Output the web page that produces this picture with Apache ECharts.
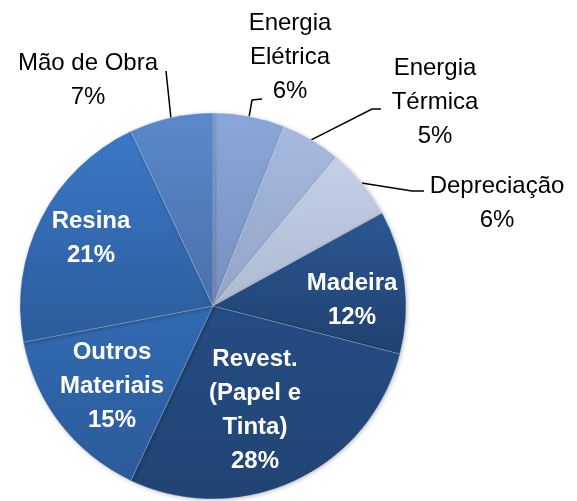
<!DOCTYPE html>
<html>
<head>
<meta charset="utf-8">
<script src="https://cdn.jsdelivr.net/npm/echarts@6/dist/echarts.min.js"></script>
<style>
  html, body { margin: 0; padding: 0; background: #fff; }
  #chart { width: 577px; height: 501px; }
</style>
</head>
<body>
<div id="chart"></div>
<script>
// categories and shares (%), clockwise from 12 o'clock
const categories = ["Energia\nElétrica", "Energia\nTérmica", "Depreciação", "Madeira", "Revest.\n(Papel e\nTinta)", "Outros\nMateriais", "Resina", "Mão de Obra"]
const shares = [6, 5, 6, 12, 28, 15, 21, 7]
// which labels sit inside the slice
const insideLabel = [false, false, false, true, true, true, true, false]

// slice colours: [top, bottom] of each gradient
const sliceColors = [
  ["#89a7d8", "#7690bf"],
  ["#a6b9df", "#93a5c7"],
  ["#c4d0e7", "#aebad2"],
  ["#2c5794", "#1f416e"],
  ["#254c84", "#214473"],
  ["#316ab2", "#2c5b9a"],
  ["#3b78c6", "#2c5b9b"],
  ["#5a89cc", "#4a70ab"]
]

const cx = 213, cy = 306, R = 193

// label centres relative to pie centre, and leader line elbow/end points
const labelPos = [
  { x: 77, y: -249, elbow: [39, -206], end: [49, -207] },
  { x: 222, y: -204, elbow: [159, -197], end: [168, -197] },
  { x: 284, y: -103, elbow: [199, -115], end: [211, -115] },
  { x: 139, y: -6 },
  { x: 42, y: 104 },
  { x: -101, y: 80 },
  { x: -122, y: -68 },
  { x: -125, y: -226, elbow: [-47, -235], end: [-47, -235] }
]

const total = shares.reduce((a, b) => a + b, 0)
const midAngles = []
let acc = 0
shares.forEach((v) => {
  midAngles.push((acc + v / 2) / total * Math.PI * 2)
  acc += v
})

const chart = echarts.init(document.getElementById("chart"))

const data = categories.map((name, i) => {
  return {
    name: name,
    value: shares[i],
    itemStyle: {
      color: new echarts.graphic.LinearGradient(0, 0, 0, 1, [
        { offset: 0, color: sliceColors[i][0] },
        { offset: 1, color: sliceColors[i][1] }
      ])
    },
    label: insideLabel[i]
      ? { position: "inside", color: "#fff", fontWeight: "bold" }
      : { position: "outside", color: "#000", fontWeight: "normal" },
    labelLine: { show: !insideLabel[i] }
  }
})

chart.setOption({
  animation: false,
  series: [{
    type: "pie",
    center: [cx, cy],
    radius: R,
    startAngle: 90,
    clockwise: true,
    avoidLabelOverlap: false,
    itemStyle: {
      borderColor: "rgba(255,255,255,0.35)",
      borderWidth: 0.6,
      shadowColor: "rgba(0,0,0,0.25)",
      shadowBlur: 4,
      shadowOffsetX: 1,
      shadowOffsetY: 1
    },
    label: {
      show: true,
      formatter: (p) => p.name + "\n" + p.value + "%",
      fontFamily: "Liberation Sans",
      fontSize: 24,
      lineHeight: 34,
      align: "center",
      overflow: "none"
    },
    labelLine: {
      show: true,
      lineStyle: { color: "#000", width: 1.5 }
    },
    labelLayout: (params) => {
      const i = params.dataIndex
      const lp = labelPos[i]
      const out = {
        x: cx + lp.x,
        y: cy + lp.y,
        align: "center",
        verticalAlign: "middle"
      }
      if (lp.elbow) {
        const a = midAngles[i]
        out.labelLinePoints = [
          [cx + R * Math.sin(a), cy - R * Math.cos(a)],
          [cx + lp.elbow[0], cy + lp.elbow[1]],
          [cx + lp.end[0], cy + lp.end[1]]
        ]
      }
      return out
    },
    emphasis: { disabled: true },
    data: data
  }]
})
</script>
</body>
</html>
